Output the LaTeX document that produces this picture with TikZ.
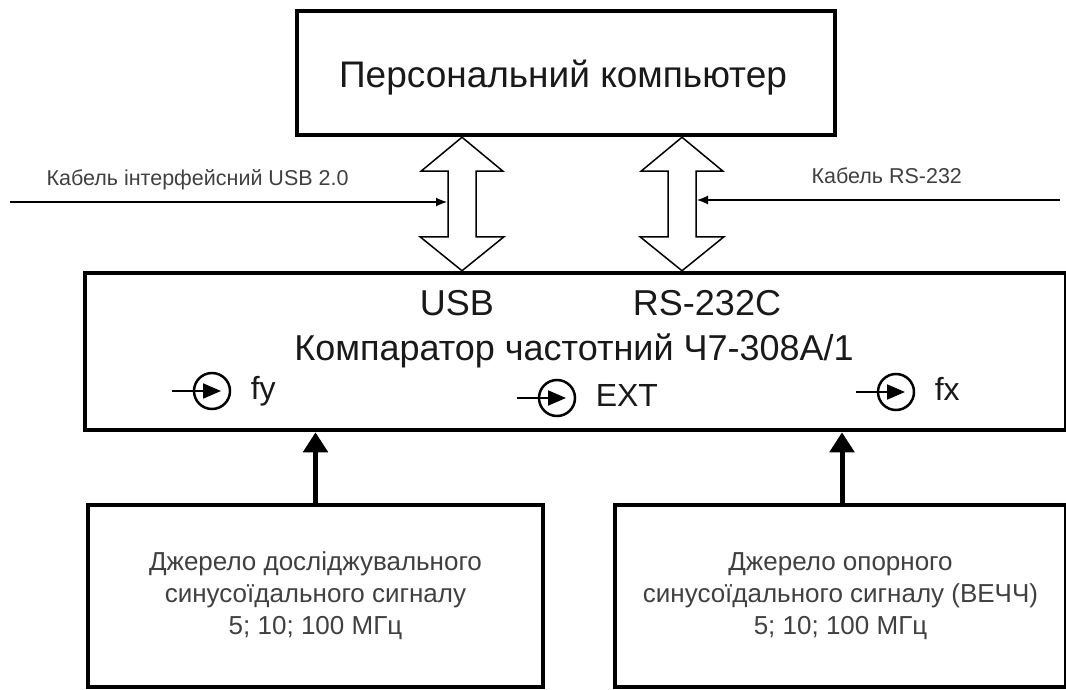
\documentclass[tikz,border=0pt]{standalone}
\usepackage{fontspec}
\setmainfont{Liberation Sans}
\usetikzlibrary{arrows.meta, positioning, calc}

\begin{document}
\begin{tikzpicture}[
    x=1pt, y=-1pt,
    block/.style={rectangle, draw=black, line width=4.5pt, inner sep=0pt, align=center},
    bus/.style={draw=black, fill=white, line width=1.5pt, line join=miter},
    cable/.style={-{Latex[length=11pt, width=9pt]}, line width=1.2pt},
    signal/.style={-{Triangle[length=20pt, width=24pt]}, line width=5pt},
    jack/.style={circle, draw=black, line width=2.5pt, minimum size=36pt, inner sep=0pt},
    jackin/.style={-{Triangle[length=18pt, width=15pt]}, line width=2pt},
    title/.style={font=\fontsize{37}{44}\selectfont, text=black!90},
    port/.style={font=\fontsize{36}{43}\selectfont, text=black!90},
    input/.style={font=\fontsize{32}{38}\selectfont, text=black!90},
    note/.style={font=\fontsize{21.5}{26}\selectfont, text=black!75},
    spec/.style={font=\fontsize{26}{32}\selectfont, text=black!75}
]
\useasboundingbox (0,0) rectangle (1066,690);
% blocks
\node[block, minimum width=538pt, minimum height=124pt] (pc) at (566,73) {};
\node[title, anchor=base] (pclbl) at (563,88) {Персональний компьютер};
\node[block, minimum width=981pt, minimum height=157pt] (comp) at (575.5,351.5) {};
\node[block, spec, minimum width=455pt, minimum height=182pt] (src1) at (315.5,596)
    {Джерело досліджувального\\синусоїдального сигналу\\5; 10; 100 МГц};
\node[block, spec, minimum width=451pt, minimum height=182pt] (src2) at (840.5,596)
    {Джерело опорного\\синусоїдального сигналу (ВЕЧЧ)\\5; 10; 100 МГц};
% labels inside the comparator
\node[port, anchor=base] (usblbl) at (457,315) {USB};
\node[port, anchor=base] (rslbl) at (707,315) {RS-232C};
\node[port, anchor=base] (complbl) at (574,360) {Компаратор частотний Ч7-308А/1};
% inputs
\foreach \nm/\px/\py/\txt in {fy/212/391/fy, ext/557/398/EXT, fx/896/392/fx} {
    \node[jack] (\nm jack) at (\px,\py) {};
    \draw[jackin] ($(\nm jack.center)+(-40,0)$) -- ($(\nm jack.center)+(9,0)$);
    \node[input, anchor=base west] (\nm lbl) at ($(\nm jack.east)+(16,8)$) {\txt};
}
% interface buses
\coordinate (usbx) at (462,0);
\coordinate (rsx) at (682,0);
\foreach \b in {usbx, rsx} {
    \draw[bus] (pc.south -| \b) -- ++(41,34) -- ++(-27,0)
        -- ($(comp.north -| \b)+(14,-34)$) -- ($(comp.north -| \b)+(42,-34)$)
        -- (comp.north -| \b) -- ($(comp.north -| \b)+(-42,-34)$)
        -- ($(comp.north -| \b)+(-14,-34)$) -- ($(pc.south -| \b)+(-14,34)$)
        -- ($(pc.south -| \b)+(-41,34)$) -- cycle;
}
% cables
\coordinate (usbcab) at (10,202);
\coordinate (usbend) at (447,202);
\coordinate (rscab) at (1060,200);
\coordinate (rsend) at (697,200);
\draw[cable] (usbcab) -- (usbend);
\draw[cable] (rscab) -- (rsend);
\node[note, anchor=base west] (usbnote) at (43,185.5) {Кабель інтерфейсний USB 2.0};
\node[note, anchor=base west] (rsnote) at (808,184) {Кабель RS-232};
% signal sources
\draw[signal] (src1.north) -- (src1.north |- comp.south);
\draw[signal] (src2.north -| 842,0) -- (comp.south -| 842,0);
\end{tikzpicture}
\end{document}
